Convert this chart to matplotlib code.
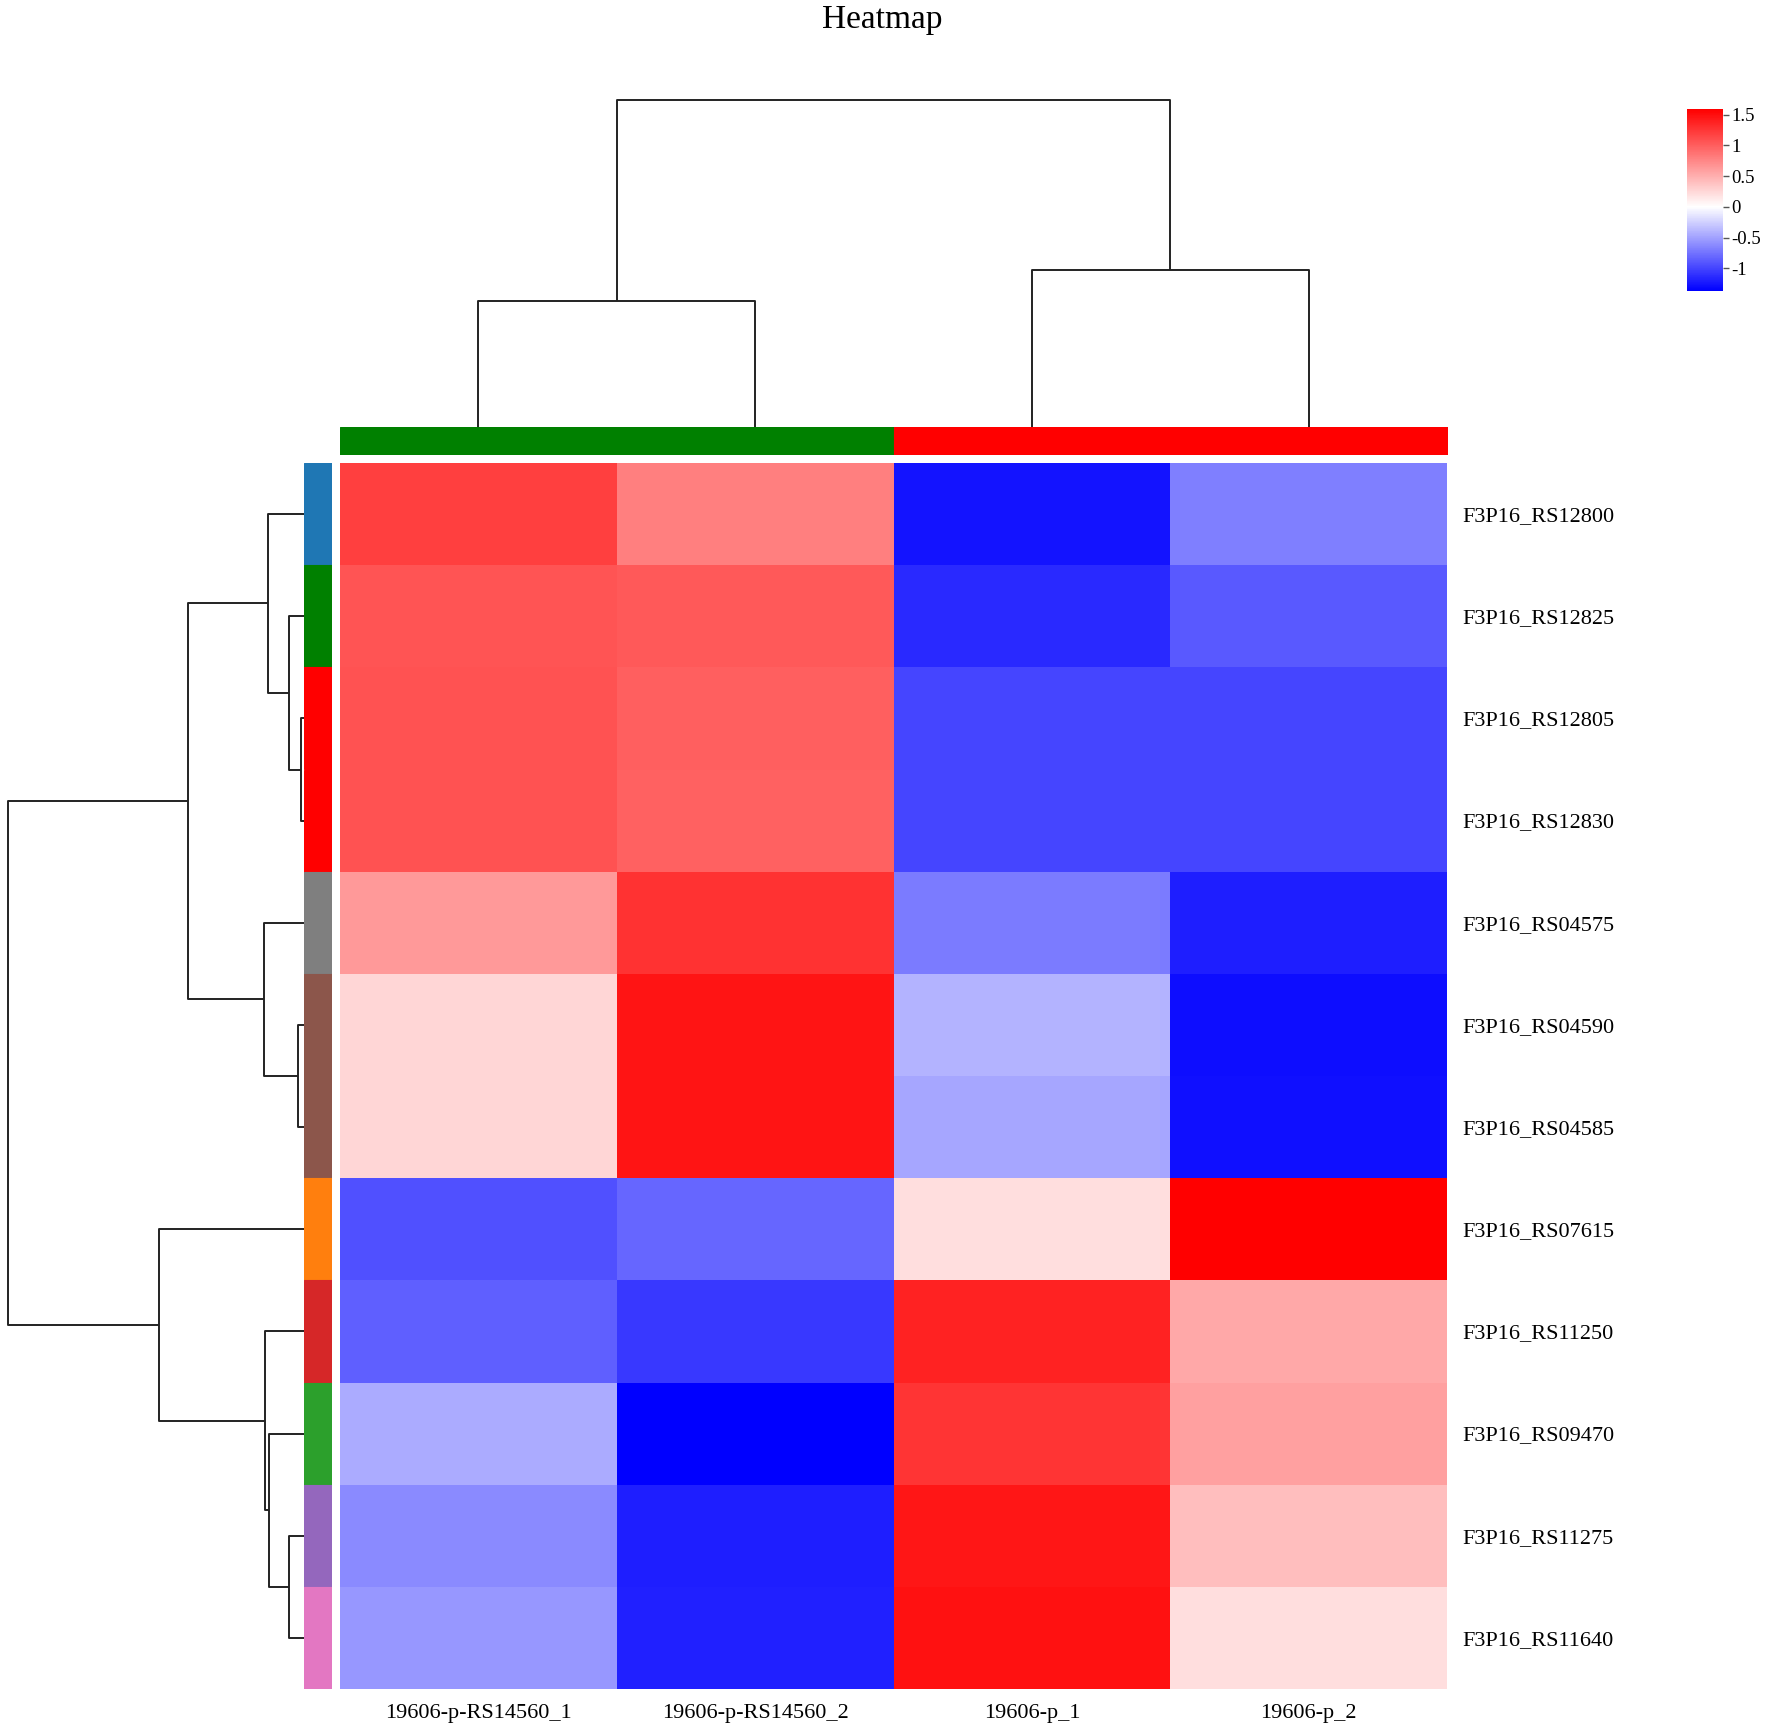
import numpy as np
import matplotlib
matplotlib.use("Agg")
import matplotlib.pyplot as plt
from matplotlib.colors import LinearSegmentedColormap, Normalize

plt.rcParams['font.family'] = ['Liberation Serif', 'DejaVu Serif']
plt.rcParams['axes.unicode_minus'] = False

# data (row z-scores, in the displayed order)
genes = ["F3P16_RS12800", "F3P16_RS12825", "F3P16_RS12805", "F3P16_RS12830",
         "F3P16_RS04575", "F3P16_RS04590", "F3P16_RS04585", "F3P16_RS07615",
         "F3P16_RS11250", "F3P16_RS09470", "F3P16_RS11275", "F3P16_RS11640"]
samples = ["19606-p-RS14560_1", "19606-p-RS14560_2", "19606-p_1", "19606-p_2"]
values = np.array([
    [1.19, 0.80, -1.26, -0.68],
    [1.06, 1.03, -1.14, -0.89],
    [1.08, 0.99, -1.00, -0.99],
    [1.07, 0.98, -0.99, -1.00],
    [0.64, 1.27, -0.71, -1.20],
    [0.26, 1.46, -0.40, -1.29],
    [0.26, 1.46, -0.47, -1.28],
    [-0.94, -0.82, 0.21, 1.59],
    [-0.86, -1.06, 1.38, 0.54],
    [-0.45, -1.37, 1.26, 0.59],
    [-0.63, -1.20, 1.44, 0.40],
    [-0.55, -1.19, 1.48, 0.21],
])
vmin, vmax = -1.37, 1.59

# cluster annotation colours
row_colors = ["#1f77b4", "#008000", "#ff0000", "#ff0000", "#7f7f7f", "#8c564b",
              "#8c564b", "#ff7f0e", "#d62728", "#2ca02c", "#9467bd", "#e377c2"]
col_colors = ["#008000", "#008000", "#ff0000", "#ff0000"]

# linkage: (child a, child b, height); new clusters numbered n, n+1, ...
row_merges = [(2, 3, 0.030), (5, 6, 0.063), (10, 11, 0.150), (1, 12, 0.150),
              (9, 14, 0.347), (0, 15, 0.363), (8, 16, 0.390), (4, 13, 0.400),
              (17, 19, 1.157), (7, 18, 1.447), (20, 21, 2.957)]
col_merges = [(0, 1, 1.257), (2, 3, 1.567), (4, 5, 3.267)]


def dendro_segments(merges, n):
    pos = {i: i + 0.5 for i in range(n)}
    hgt = {i: 0.0 for i in range(n)}
    segs = []
    for k, (a, b, h) in enumerate(merges):
        segs.append(([pos[a], pos[a], pos[b], pos[b]], [hgt[a], h, h, hgt[b]]))
        pos[n + k] = (pos[a] + pos[b]) / 2
        hgt[n + k] = h
    return segs


W, H = 1772, 1734
fig = plt.figure(figsize=(W / 100, H / 100), dpi=100)


def px_axes(x0, y0, x1, y1):
    return fig.add_axes([x0 / W, 1 - y1 / H, (x1 - x0) / W, (y1 - y0) / H])


nr, nc = values.shape
frac0 = (0 - vmin) / (vmax - vmin)
cmap = LinearSegmentedColormap.from_list("bwr2", [(0, "#0000ff"), (frac0, "#ffffff"), (1, "#ff0000")])
norm = Normalize(vmin, vmax)

# heatmap
ax = px_axes(340, 463, 1447, 1689)
mesh = ax.pcolormesh(values, cmap=cmap, norm=norm, edgecolors="none")
ax.set_xlim(0, nc)
ax.set_ylim(nr, 0)
ax.set_xticks(np.arange(nc) + 0.5)
ax.set_xticklabels(samples, fontsize=16)
ax.set_yticks(np.arange(nr) + 0.5)
ax.set_yticklabels(genes, fontsize=16)
ax.yaxis.tick_right()
ax.tick_params(length=0)
ax.tick_params(axis="y", pad=11)
ax.tick_params(axis="x", pad=11)
for s in ax.spines.values():
    s.set_visible(False)

# column annotation bar
axc = px_axes(340, 427, 1448, 455)
axc.bar(np.arange(nc), 1, width=1, align="edge", color=col_colors,
        edgecolor=col_colors, linewidth=0.8)
axc.set_xlim(0, nc)
axc.set_ylim(0, 1)
axc.axis("off")

# row annotation bar
axr = px_axes(304, 463, 332, 1689)
axr.barh(np.arange(nr), 1, height=1, align="edge", color=row_colors,
         edgecolor=row_colors, linewidth=0.8)
axr.set_ylim(nr, 0)
axr.set_xlim(0, 1)
axr.axis("off")

# column dendrogram
axdc = px_axes(340, 100, 1447, 427)
for xs, ys in dendro_segments(col_merges, nc):
    axdc.plot(xs, ys, color="#222222", lw=1.4, clip_on=False, solid_capstyle="butt")
axdc.set_xlim(0, nc)
axdc.set_ylim(0, col_merges[-1][2])
axdc.axis("off")

# row dendrogram
axdr = px_axes(8, 463, 304, 1689)
for ys, xs in dendro_segments(row_merges, nr):
    axdr.plot(xs, ys, color="#222222", lw=1.4, clip_on=False, solid_capstyle="butt")
axdr.set_ylim(nr, 0)
axdr.set_xlim(row_merges[-1][2], 0)
axdr.axis("off")

# colorbar
cax = px_axes(1687, 109, 1723, 291)
cb = fig.colorbar(mesh, cax=cax)
cb.set_ticks([1.5, 1, 0.5, 0, -0.5, -1])
cb.set_ticklabels(["1.5", "1", "0.5", "0", "-0.5", "-1"])
cb.outline.set_visible(False)
cax.tick_params(labelsize=13.5, length=4, width=1, color="#555555", pad=2)

fig.text(882 / W, 1 - 20 / H, "Heatmap", ha="center", va="center", fontsize=24)

fig.savefig("out.png", dpi=100)
